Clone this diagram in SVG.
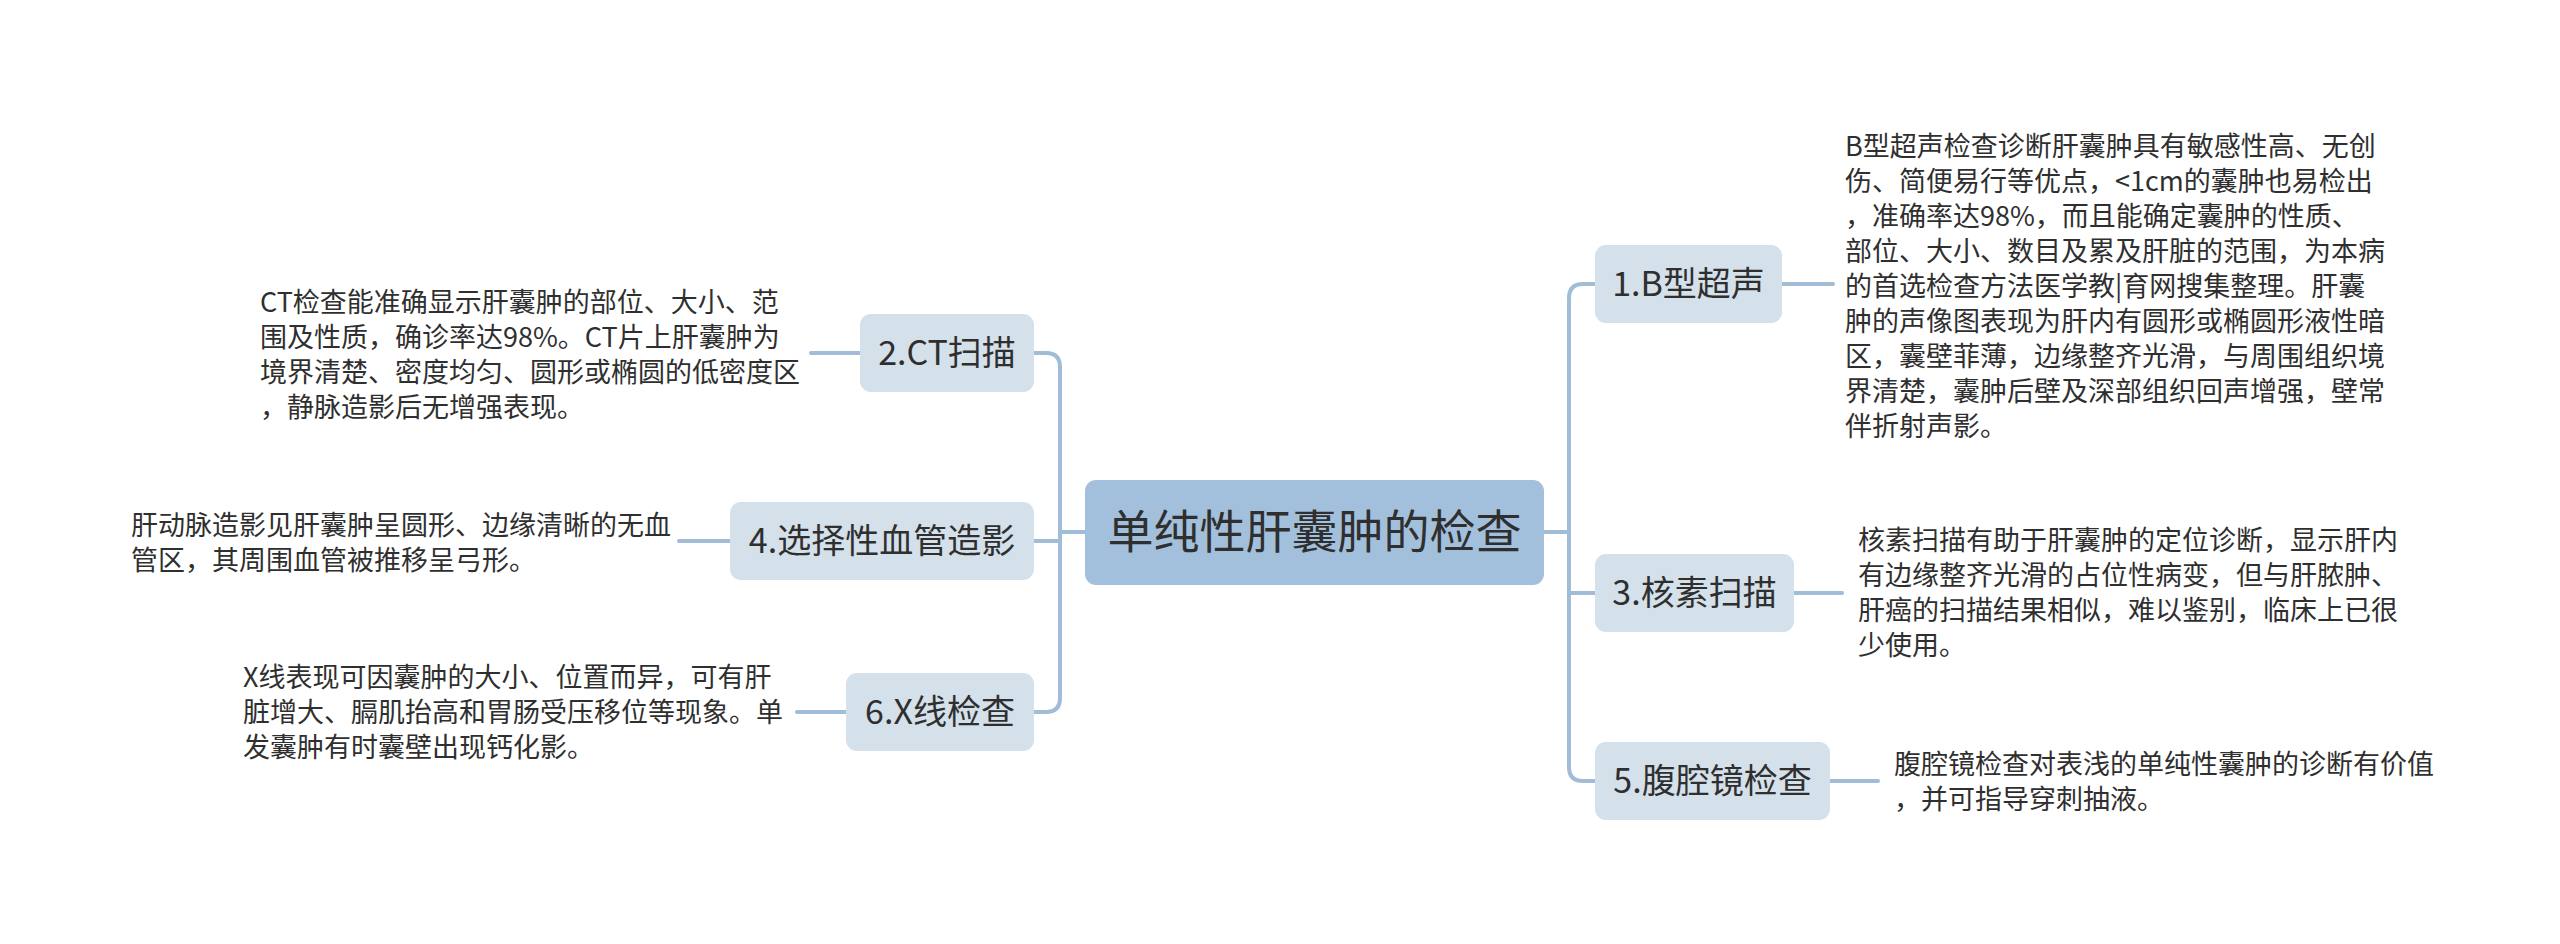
<svg xmlns="http://www.w3.org/2000/svg" width="2560" height="944" viewBox="0 0 2560 944">
<defs>
<style>
.bg{fill:#ffffff}
.conn path{fill:none;stroke:#a0bcd7;stroke-width:4;stroke-linecap:round}
.root rect{fill:#a2bfdb}
.sub rect{fill:#d4e0ea}
.root text{font-family:"Noto Sans CJK SC","Noto Sans",sans-serif;font-size:46px;fill:#2f2f2f;text-anchor:middle}
.sub text{font-family:"Noto Sans CJK SC","Noto Sans",sans-serif;font-size:34px;fill:#2f2f2f;text-anchor:middle}
.desc{font-family:"Noto Sans CJK SC","Noto Sans",sans-serif;font-size:27px;fill:#2f2f2f}
</style>
</defs>
<rect class="bg" x="0" y="0" width="2560" height="944"/>
<g id="connectors" class="conn">
<path d="M1060,532 H1085"/>
<path d="M1034,353 H1046 Q1060,353 1060,367 V698 Q1060,712 1046,712 H1034"/>
<path d="M1034,541 H1060"/>
<path d="M1544,532 H1569"/>
<path d="M1595,284 H1583 Q1569,284 1569,298 V767 Q1569,781 1583,781 H1595"/>
<path d="M1569,593 H1595"/>
<path d="M1782,284 H1833"/>
<path d="M1794,593 H1842"/>
<path d="M1830,781 H1878"/>
<path d="M811,353 H860"/>
<path d="M679,541 H730"/>
<path d="M797,712 H846"/>
</g>
<g id="root" class="root">
<rect x="1085" y="480" width="459" height="105" rx="11"/>
<text x="1314.5" y="548">单纯性肝囊肿的检查</text>
</g>
<g id="n1" class="sub">
<rect x="1595" y="245" width="187" height="78" rx="11"/>
<text x="1688.5" y="296">1.B型超声</text>
</g>
<g id="n1-desc">
<text class="desc" x="1845"><tspan x="1845" y="156">B型超声检查诊断肝囊肿具有敏感性高、无创</tspan><tspan x="1845" y="191">伤、简便易行等优点，&lt;1cm的囊肿也易检出</tspan><tspan x="1845" y="226">，准确率达98%，而且能确定囊肿的性质、</tspan><tspan x="1845" y="261">部位、大小、数目及累及肝脏的范围，为本病</tspan><tspan x="1845" y="296">的首选检查方法医学教|育网搜集整理。肝囊</tspan><tspan x="1845" y="331">肿的声像图表现为肝内有圆形或椭圆形液性暗</tspan><tspan x="1845" y="366">区，囊壁菲薄，边缘整齐光滑，与周围组织境</tspan><tspan x="1845" y="401">界清楚，囊肿后壁及深部组织回声增强，壁常</tspan><tspan x="1845" y="436">伴折射声影。</tspan></text>
</g>
<g id="n3" class="sub">
<rect x="1595" y="554" width="199" height="78" rx="11"/>
<text x="1694.5" y="605">3.核素扫描</text>
</g>
<g id="n3-desc">
<text class="desc"><tspan x="1858" y="550">核素扫描有助于肝囊肿的定位诊断，显示肝内</tspan><tspan x="1858" y="585">有边缘整齐光滑的占位性病变，但与肝脓肿、</tspan><tspan x="1858" y="620">肝癌的扫描结果相似，难以鉴别，临床上已很</tspan><tspan x="1858" y="655">少使用。</tspan></text>
</g>
<g id="n5" class="sub">
<rect x="1595" y="742" width="235" height="78" rx="11"/>
<text x="1712.5" y="793">5.腹腔镜检查</text>
</g>
<g id="n5-desc">
<text class="desc"><tspan x="1894" y="774">腹腔镜检查对表浅的单纯性囊肿的诊断有价值</tspan><tspan x="1894" y="809">，并可指导穿刺抽液。</tspan></text>
</g>
<g id="n2" class="sub">
<rect x="860" y="314" width="174" height="78" rx="11"/>
<text x="947" y="365">2.CT扫描</text>
</g>
<g id="n2-desc">
<text class="desc"><tspan x="260" y="312">CT检查能准确显示肝囊肿的部位、大小、范</tspan><tspan x="260" y="347">围及性质，确诊率达98%。CT片上肝囊肿为</tspan><tspan x="260" y="382">境界清楚、密度均匀、圆形或椭圆的低密度区</tspan><tspan x="260" y="417">，静脉造影后无增强表现。</tspan></text>
</g>
<g id="n4" class="sub">
<rect x="730" y="502" width="304" height="78" rx="11"/>
<text x="882" y="553">4.选择性血管造影</text>
</g>
<g id="n4-desc">
<text class="desc"><tspan x="131" y="535">肝动脉造影见肝囊肿呈圆形、边缘清晰的无血</tspan><tspan x="131" y="570">管区，其周围血管被推移呈弓形。</tspan></text>
</g>
<g id="n6" class="sub">
<rect x="846" y="673" width="188" height="78" rx="11"/>
<text x="940" y="724">6.X线检查</text>
</g>
<g id="n6-desc">
<text class="desc"><tspan x="243" y="687">X线表现可因囊肿的大小、位置而异，可有肝</tspan><tspan x="243" y="722">脏增大、膈肌抬高和胃肠受压移位等现象。单</tspan><tspan x="243" y="757">发囊肿有时囊壁出现钙化影。</tspan></text>
</g>
</svg>
